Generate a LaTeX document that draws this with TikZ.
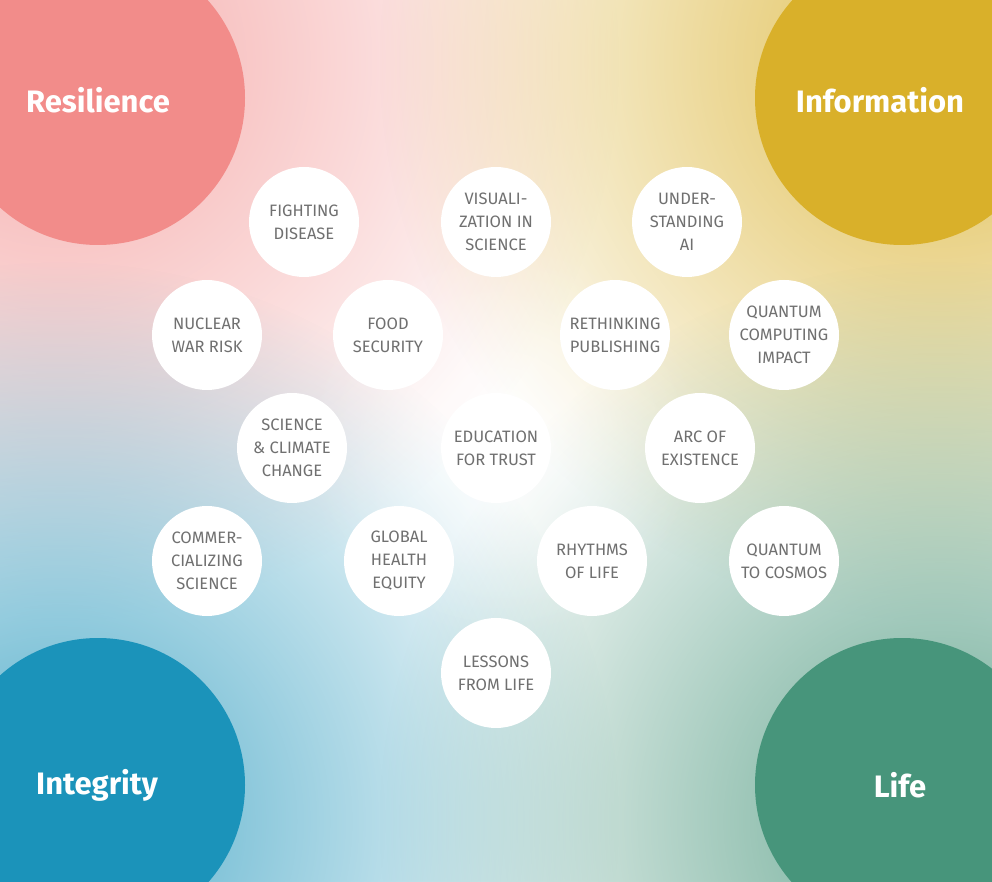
\documentclass[tikz,border=0pt]{standalone}
\usepackage{fontspec}
\setmainfont{Fira Sans}
\usetikzlibrary{fadings}
\tikzfading[name=myfade, inner color=transparent!0, outer color=transparent!100]
\definecolor{cres}{HTML}{F28C8A}
\definecolor{cinf}{HTML}{D9B02A}
\definecolor{cint}{HTML}{1B93BA}
\definecolor{clif}{HTML}{47957B}
\definecolor{tgray}{HTML}{707070}
\tikzset{topic/.style={circle,fill=white,minimum size=110pt,inner sep=0pt,align=center,text=tgray,font=\fontsize{16.5}{23}\selectfont},
corner/.style={text=white,font=\fontsize{31}{34}\selectfont\bfseries}}
\begin{document}
\begin{tikzpicture}[x=1pt,y=1pt]
\useasboundingbox (0,0) rectangle (992,881);
\begin{scope}
\clip (0,0) rectangle (992,881);
\fill[white] (0,0) rectangle (992,881);
\fill[cres!70,path fading=myfade] (60,820) circle (560);
\fill[cinf!80,path fading=myfade] (940,820) circle (560);
\fill[cint!75,path fading=myfade] (60,60) circle (560);
\fill[clif!80,path fading=myfade] (940,60) circle (560);
\fill[white,path fading=myfade,opacity=0.45] (500,440) circle (200);
\fill[cres] (98,783) circle (147);
\fill[cinf] (902,783) circle (147);
\fill[cint] (98,96) circle (147);
\fill[clif] (902,96) circle (147);
\end{scope}
\node[corner] (res) at (98,781) {Resilience};
\node[corner] (inf) at (880,781) {Information};
\node[corner] (int) at (97,96) {Integrity};
\node[corner] (lif) at (900,96) {Life};
\node[topic] (t1) at (304,659) {FIGHTING\\DISEASE};
\node[topic] (t2) at (496,659) {VISUALI-\\ZATION IN\\SCIENCE};
\node[topic] (t3) at (687,659) {UNDER-\\STANDING\\AI};
\node[topic] (t4) at (207,546) {NUCLEAR\\WAR RISK};
\node[topic] (t5) at (388,546) {FOOD\\SECURITY};
\node[topic] (t6) at (615,546) {RETHINKING\\PUBLISHING};
\node[topic] (t7) at (784,546) {QUANTUM\\COMPUTING\\IMPACT};
\node[topic] (t8) at (292,433) {SCIENCE\\\& CLIMATE\\CHANGE};
\node[topic] (t9) at (496,433) {EDUCATION\\FOR TRUST};
\node[topic] (t10) at (700,433) {ARC OF\\EXISTENCE};
\node[topic] (t11) at (207,320) {COMMER-\\CIALIZING\\SCIENCE};
\node[topic] (t12) at (399,320) {GLOBAL\\HEALTH\\EQUITY};
\node[topic] (t13) at (592,320) {RHYTHMS\\OF LIFE};
\node[topic] (t14) at (784,320) {QUANTUM\\TO COSMOS};
\node[topic] (t15) at (496,208) {LESSONS\\FROM LIFE};
\end{tikzpicture}
\end{document}
